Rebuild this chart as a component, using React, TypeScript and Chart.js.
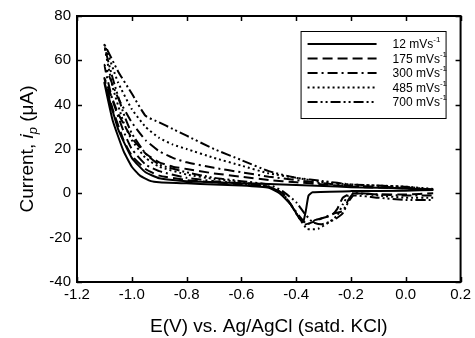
import React, { useEffect, useRef } from "react";
import { Chart, registerables } from "chart.js";

Chart.register(...registerables);

const FONT = "'Liberation Sans', Arial, Helvetica, sans-serif";

// Scan rates (mV s^-1)
const RATES = ["12", "175", "300", "485", "700"];

// X ticks / Y ticks
const X_MIN = -1.2;
const X_MAX = 0.2;
const X_STEP = 0.2;
const Y_MIN = -40;
const Y_MAX = 80;
const Y_STEP = 20;

// Forward (cathodic) sweep potentials, shared by all series
const E_UP = [0.1, 0.0, -0.1, -0.2, -0.3, -0.4, -0.5, -0.6, -0.7, -0.8, -0.85, -0.9, -0.95, -1.0, -1.05, -1.1];

// 12 mV/s
const I_UP_12 = [1.8, 2.2, 2.5, 2.8, 3.3, 3.8, 4.2, 4.6, 5.0, 5.5, 6.0, 6.8, 9.5, 16, 29, 50];
const E_DN_12 = [-1.07, -1.03, -1.0, -0.97, -0.93, -0.9, -0.8, -0.7, -0.6, -0.5, -0.46, -0.42, -0.39, -0.375, -0.365, -0.355, -0.34, -0.2, 0.0, 0.1];
const I_DN_12 = [33, 19, 12, 8, 5.5, 5, 4.5, 4, 3.5, 2.5, 0, -5, -11, -13, -8, -1, 0.5, 1, 1.2, 1.5];

// 175 mV/s
const I_UP_175 = [1.5, 2.2, 2.6, 3.0, 4.0, 5.0, 6.0, 7.5, 9.0, 11, 12, 14, 18, 25, 36, 52];
const E_DN_175 = [-1.07, -1.03, -1.0, -0.95, -0.9, -0.8, -0.7, -0.6, -0.5, -0.45, -0.42, -0.4, -0.37, -0.34, -0.3, -0.27, -0.25, -0.23, -0.2, -0.1, 0.0, 0.1];
const I_DN_175 = [38, 24, 17, 11, 8, 6, 5, 4, 3, 0, -5, -9, -14, -13, -11, -10, -7, -2, 0, -0.5, -0.5, 0];

// 300 mV/s
const I_UP_300 = [1.5, 2.5, 3.0, 3.5, 4.5, 6.0, 7.5, 9.5, 11.5, 14, 16, 19, 24, 32, 43, 58];
const E_DN_300 = [-1.07, -1.03, -1.0, -0.95, -0.9, -0.8, -0.7, -0.6, -0.5, -0.45, -0.42, -0.39, -0.36, -0.33, -0.3, -0.26, -0.23, -0.21, -0.19, -0.1, 0.0, 0.1];
const I_DN_300 = [42, 28, 20, 13, 10, 7, 5.5, 4.5, 3, 0, -5, -10, -14, -12, -11, -9, -8, -3, 0, -0.5, -1, -1];

// 485 mV/s
const I_UP_485 = [2, 3, 3.5, 4, 5, 7, 9, 12.5, 16, 20, 22, 25, 30, 38, 50, 67];
const E_DN_485 = [-1.07, -1.03, -1.0, -0.95, -0.9, -0.8, -0.7, -0.6, -0.5, -0.45, -0.42, -0.39, -0.36, -0.32, -0.28, -0.25, -0.23, -0.21, -0.18, -0.1, 0.0, 0.1];
const I_DN_485 = [48, 32, 24, 16, 12, 8.5, 6.5, 5, 3, 0, -5, -11, -16, -16, -13, -10, -5, -1, 0, -1, -2, -2];

// 700 mV/s
const I_UP_700 = [1.5, 3, 3.5, 4, 5.5, 7, 10, 15, 20, 26, 29, 32, 35, 45, 55, 67];
const E_DN_700 = [-1.07, -1.03, -1.0, -0.95, -0.9, -0.8, -0.7, -0.6, -0.5, -0.45, -0.4, -0.37, -0.34, -0.31, -0.28, -0.25, -0.23, -0.21, -0.19, -0.1, 0.0, 0.1];
const I_DN_700 = [52, 36, 27, 18, 13, 9.5, 7, 5.5, 4, 1, -4, -9, -13, -14, -13, -11, -9, -4, -1, -2, -3, -3];

const DASHES: number[][] = [[], [10, 5], [10, 4, 2, 4], [2, 3], [10, 3, 2, 3, 2, 3]];

const X_TITLE = "E(V) vs. Ag/AgCl (satd. KCl)";

function loop(eUp: number[], iUp: number[], eDn: number[], iDn: number[]) {
  const pts: { x: number; y: number }[] = [];
  eUp.forEach((e, k) => pts.push({ x: e, y: iUp[k] }));
  eDn.forEach((e, k) => pts.push({ x: e, y: iDn[k] }));
  return pts;
}

const SERIES = [
  loop(E_UP, I_UP_12, E_DN_12, I_DN_12),
  loop(E_UP, I_UP_175, E_DN_175, I_DN_175),
  loop(E_UP, I_UP_300, E_DN_300, I_DN_300),
  loop(E_UP, I_UP_485, E_DN_485, I_DN_485),
  loop(E_UP, I_UP_700, E_DN_700, I_DN_700),
];

const decorPlugin = {
  id: "decor",
  afterDraw(chart: any) {
    const { ctx, chartArea } = chart;
    const { left, right, top, bottom } = chartArea;
    const xs = chart.scales.x;
    const ys = chart.scales.y;
    ctx.save();
    ctx.strokeStyle = "#000";
    ctx.setLineDash([]);
    ctx.lineWidth = 2;
    ctx.strokeRect(left, top, right - left, bottom - top);
    ctx.lineWidth = 1.5;
    ctx.beginPath();
    xs.ticks.forEach((t: any) => {
      const px = Math.round(xs.getPixelForValue(t.value)) + 0.5;
      ctx.moveTo(px, bottom);
      ctx.lineTo(px, bottom - 5);
      ctx.moveTo(px, top);
      ctx.lineTo(px, top + 5);
    });
    ys.ticks.forEach((t: any) => {
      const py = Math.round(ys.getPixelForValue(t.value)) + 0.5;
      ctx.moveTo(left, py);
      ctx.lineTo(left + 5, py);
      ctx.moveTo(right, py);
      ctx.lineTo(right - 5, py);
    });
    ctx.stroke();

    // X title
    ctx.fillStyle = "#000";
    ctx.font = `19px ${FONT}`;
    ctx.textAlign = "center";
    ctx.textBaseline = "middle";
    ctx.fillText(X_TITLE, (left + right) / 2, 327);

    // Y title with italic i and subscript p
    const parts = [
      { t: "Current, ", f: `19px ${FONT}`, dy: 0 },
      { t: "i", f: `italic 19px ${FONT}`, dy: 0 },
      { t: "p", f: `italic 13px ${FONT}`, dy: 5 },
      { t: " (\u03bcA)", f: `19px ${FONT}`, dy: 0 },
    ];
    let total = 0;
    parts.forEach((p) => {
      ctx.font = p.f;
      total += ctx.measureText(p.t).width;
    });
    ctx.translate(28, (top + bottom) / 2);
    ctx.rotate(-Math.PI / 2);
    ctx.textAlign = "left";
    let cx = -total / 2;
    parts.forEach((p) => {
      ctx.font = p.f;
      ctx.fillText(p.t, cx, p.dy);
      cx += ctx.measureText(p.t).width;
    });
    ctx.setTransform(1, 0, 0, 1, 0, 0);

    // Legend
    const bx0 = right - 160;
    const bx1 = right - 15;
    const by0 = top + 15;
    const by1 = top + 102;
    ctx.lineWidth = 1;
    ctx.strokeRect(bx0 + 0.5, by0 + 0.5, bx1 - bx0, by1 - by0);
    RATES.forEach((r, k) => {
      const yy = by0 + 13 + k * 14.5;
      ctx.lineWidth = 2;
      ctx.setLineDash(DASHES[k]);
      ctx.beginPath();
      ctx.moveTo(bx0 + 7, yy);
      ctx.lineTo(bx0 + 76, yy);
      ctx.stroke();
      ctx.setLineDash([]);
      ctx.textAlign = "left";
      ctx.textBaseline = "middle";
      ctx.font = `12px ${FONT}`;
      const main = `${r} mVs`;
      ctx.fillText(main, bx0 + 92, yy + 1);
      const w = ctx.measureText(main).width;
      ctx.font = `8px ${FONT}`;
      ctx.fillText("-1", bx0 + 92 + w, yy - 4);
    });
    ctx.restore();
  },
};

export default function App() {
  const ref = useRef<HTMLCanvasElement | null>(null);
  useEffect(() => {
    document.body.style.margin = "0";
    const canvas = ref.current!;
    const chart = new Chart(canvas, {
      type: "scatter",
      data: {
        datasets: SERIES.map((pts, k) => ({
          label: `${RATES[k]} mVs-1`,
          data: pts,
          showLine: true,
          borderColor: "#000",
          backgroundColor: "#000",
          borderWidth: 2,
          borderDash: DASHES[k],
          pointRadius: 0,
          tension: 0.15,
          fill: false,
        })),
      },
      options: {
        responsive: false,
        animation: false,
        devicePixelRatio: 1,
        layout: { padding: { top: 16, right: 14, left: 0, bottom: 0 } },
        plugins: { legend: { display: false }, tooltip: { enabled: false } },
        scales: {
          x: {
            type: "linear",
            min: X_MIN,
            max: X_MAX,
            grid: { display: false, drawTicks: false },
            border: { display: false },
            ticks: {
              stepSize: X_STEP,
              padding: 4,
              color: "#000",
              font: { family: FONT, size: 15 },
              callback: (v: any) => (Math.abs(Number(v)) < 1e-9 ? "0.0" : Number(v).toFixed(1)),
            },
            afterFit: (s: any) => {
              s.height = 56;
            },
          },
          y: {
            type: "linear",
            min: Y_MIN,
            max: Y_MAX,
            grid: { display: false, drawTicks: false },
            border: { display: false },
            ticks: {
              stepSize: Y_STEP,
              padding: 6,
              color: "#000",
              font: { family: FONT, size: 15 },
            },
            afterFit: (s: any) => {
              s.width = 77;
            },
          },
        },
      },
      plugins: [decorPlugin],
    });
    return () => chart.destroy();
  }, []);
  return (
    <div style={{ width: 475, height: 338 }}>
      <canvas ref={ref} width={475} height={338} style={{ width: 475, height: 338, display: "block" }} />
    </div>
  );
}
